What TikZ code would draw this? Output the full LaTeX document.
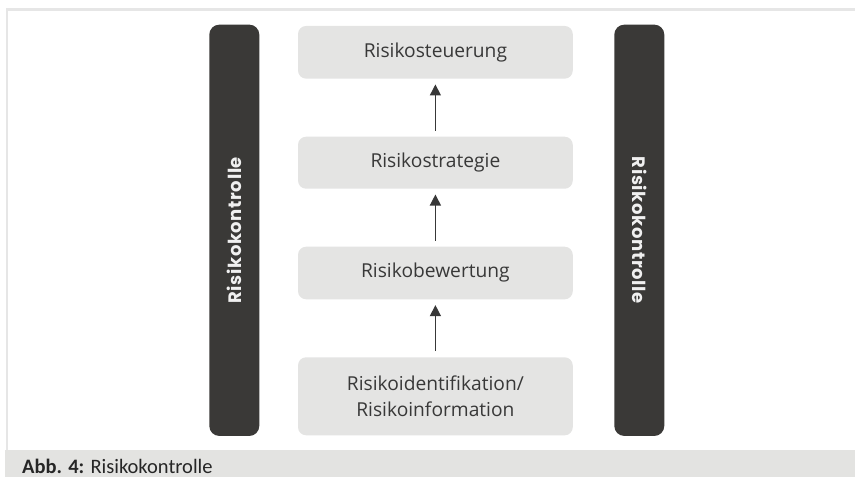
\documentclass[tikz,border=0pt]{standalone}
\usepackage{fontspec}
\setmainfont{Open Sans}
\newfontfamily\capfont{Carlito}
\newfontfamily\barfont[LetterSpace=3.5]{Poppins}
\usetikzlibrary{arrows.meta}

\definecolor{barfill}{HTML}{3A3937}
\definecolor{boxfill}{HTML}{E4E4E3}
\definecolor{inktext}{HTML}{383838}
\definecolor{framegray}{HTML}{E6E6E6}
\definecolor{bandgray}{HTML}{E3E3E1}

\tikzset{
  stage/.style={fill=boxfill, rounded corners=8pt, minimum width=274.7pt,
    text=inktext, align=center, inner sep=0pt,
    font=\fontsize{19.2}{26.5}\selectfont},
  ctrlbar/.style={fill=barfill, rounded corners=10pt, minimum width=411.3pt,
    minimum height=50pt, inner sep=0pt, text=white!94!black,
    font=\barfont\bfseries\fontsize{18}{22}\selectfont},
  flow/.style={draw=inktext, line width=1.3pt,
    -{Triangle[length=11pt,width=11pt]}, shorten >=5.6pt, shorten <=6pt}
}

\begin{document}
\begin{tikzpicture}[x=1pt,y=-1pt]
  \useasboundingbox (0,0) rectangle (855,477);

  % outer frame and caption band
  \fill[framegray] (6,8) rectangle (855,11);
  \fill[framegray] (6,8) rectangle (8.3,450);
  \fill[bandgray] (5,450) rectangle (855,477);
  \node[anchor=base west, inner sep=0pt, text=black!85,
        font=\capfont\fontsize{20.5}{24}\selectfont] (caption) at (22,473)
        {\textbf{Abb. 4:} Risikokontrolle};

  % control bars on both sides
  \node[ctrlbar, rotate=90]  (ctrlL) at (234.3,230.3) {Risikokontrolle};
  \node[ctrlbar, rotate=-90] (ctrlR) at (639.3,230.3) {Risikokontrolle};

  % process stages
  \node[stage, minimum height=52.7pt] (steuer) at (435.4,52.3)  {Risikosteuerung};
  \node[stage, minimum height=52pt]   (strat)  at (435.4,162.7) {Risikostrategie};
  \node[stage, minimum height=52.6pt] (bewert) at (435.4,273)   {Risikobewertung};
  \node[stage, minimum height=78pt]   (ident)  at (435.4,396.3) {Risikoidentifikation/\\Risikoinformation};

  % upward flow
  \draw[flow] (strat.north)  -- (steuer.south);
  \draw[flow] (bewert.north) -- (strat.south);
  \draw[flow] (ident.north)  -- (bewert.south);
\end{tikzpicture}
\end{document}
